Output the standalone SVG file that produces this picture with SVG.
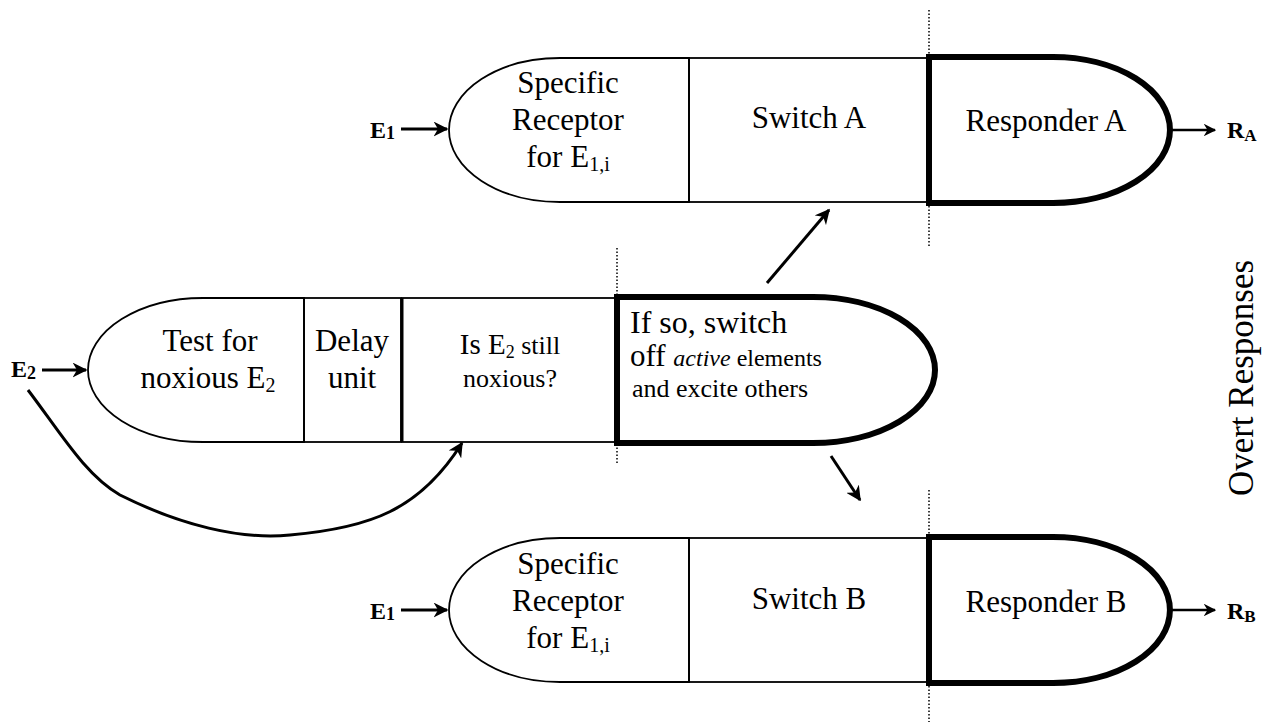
<svg xmlns="http://www.w3.org/2000/svg" width="1269" height="722" viewBox="0 0 1269 722">
<defs>
<style>
.thin{fill:none;stroke:#000;stroke-width:1.8}
.thick{fill:none;stroke:#000;stroke-width:6}
.dot{stroke:#000;stroke-width:1.5;stroke-dasharray:1.5 2}
.con{fill:none;stroke:#000;stroke-width:3}
</style>
<marker id="ah" viewBox="0 0 10 10" refX="9" refY="5" markerWidth="5" markerHeight="5" markerUnits="strokeWidth" orient="auto">
<path d="M0,0 L10,5 L0,10 L3,5 Z" fill="#000"/>
</marker>
</defs>
<rect width="1269" height="722" fill="#fff"/>

<g id="dividers">
<line class="dot" x1="929" y1="10" x2="929" y2="247"/>
<line class="dot" x1="617" y1="248" x2="617" y2="465"/>
<line class="dot" x1="929" y1="490" x2="929" y2="722"/>
</g>

<g font-family="'Liberation Serif', 'Times New Roman', 'DejaVu Serif', serif" fill="#000">
<g id="receptorA" font-size="31">
<path class="thin" d="M689,58 L560,58 A111,72 0 0 0 560,202 L689,202 Z"/>
<text text-anchor="middle" x="568" y="93">Specific</text>
<text text-anchor="middle" x="568" y="130">Receptor</text>
<text text-anchor="middle" x="568" y="167">for E<tspan font-size="20" dy="4">1,i</tspan></text>
</g>
<g id="switchA" font-size="31">
<rect class="thin" x="689" y="58" width="240" height="144"/>
<text text-anchor="middle" x="809" y="128">Switch A</text>
</g>
<g id="responderA" font-size="31">
<path class="thick" d="M929,57 L1053,57 A117,73 0 0 1 1053,203 L929,203 Z"/>
<text text-anchor="middle" x="1046" y="131">Responder A</text>
</g>

<g id="testE2" font-size="31">
<path class="thin" d="M304,298 L203,298 A115,72 0 0 0 203,442 L304,442 Z"/>
<text text-anchor="middle" x="210" y="351">Test for</text>
<text text-anchor="middle" x="208" y="388">noxious E<tspan font-size="20" dy="4">2</tspan></text>
</g>
<g id="delay" font-size="31">
<rect class="thin" x="304" y="298" width="97" height="144"/>
<text text-anchor="middle" x="352" y="351">Delay</text>
<text text-anchor="middle" x="352" y="388">unit</text>
</g>
<g id="stillNoxious" font-size="26">
<rect class="thin" x="402" y="298" width="215" height="144"/>
<line x1="402" y1="298" x2="402" y2="442" stroke="#000" stroke-width="3"/>
<text text-anchor="middle" x="510" y="354"><tspan font-size="29">Is E</tspan><tspan font-size="18" dy="4">2</tspan><tspan dy="-4"> still</tspan></text>
<text text-anchor="middle" x="510" y="387">noxious?</text>
</g>
<g id="switchOff" font-size="26">
<path class="thick" d="M617,297 L813,297 A122,73 0 0 1 813,443 L617,443 Z"/>
<text font-size="32" x="630" y="333">If so, switch</text>
<text x="630" y="366" font-size="24"><tspan font-size="31">off </tspan><tspan font-style="italic">active</tspan> elements</text>
<text x="632" y="397">and excite others</text>
</g>

<g id="receptorB" font-size="31">
<path class="thin" d="M689,538 L560,538 A111,72 0 0 0 560,682 L689,682 Z"/>
<text text-anchor="middle" x="568" y="574">Specific</text>
<text text-anchor="middle" x="568" y="611">Receptor</text>
<text text-anchor="middle" x="568" y="648">for E<tspan font-size="20" dy="4">1,i</tspan></text>
</g>
<g id="switchB" font-size="31">
<rect class="thin" x="689" y="538" width="240" height="144"/>
<text text-anchor="middle" x="809" y="609">Switch B</text>
</g>
<g id="responderB" font-size="31">
<path class="thick" d="M929,537 L1053,537 A117,73 0 0 1 1053,683 L929,683 Z"/>
<text text-anchor="middle" x="1046" y="612">Responder B</text>
</g>

<g id="labels" font-size="24" font-weight="bold">
<text x="370" y="138">E<tspan font-size="18" dy="1">1</tspan></text>
<text x="370" y="619">E<tspan font-size="18" dy="1">1</tspan></text>
<text x="11" y="377">E<tspan font-size="18" dy="2">2</tspan></text>
<text x="1227" y="138">R<tspan font-size="17" dy="3">A</tspan></text>
<text x="1227" y="619">R<tspan font-size="17" dy="3">B</tspan></text>
<text font-size="35" font-weight="normal" text-anchor="middle" transform="translate(1253,378) rotate(-90)">Overt Responses</text>
</g>
</g>

<g id="connectors">
<line class="con" x1="401" y1="129" x2="447" y2="129" marker-end="url(#ah)"/>
<line class="con" x1="401" y1="610" x2="447" y2="610" marker-end="url(#ah)"/>
<line class="con" x1="42" y1="370" x2="86" y2="370" marker-end="url(#ah)"/>
<line x1="1172" y1="130" x2="1215" y2="130" stroke="#000" stroke-width="2.5" marker-end="url(#ah)"/>
<line x1="1172" y1="610" x2="1215" y2="610" stroke="#000" stroke-width="2.5" marker-end="url(#ah)"/>
<line class="con" x1="767" y1="283" x2="829" y2="210" marker-end="url(#ah)"/>
<line class="con" x1="831" y1="456" x2="860" y2="500" marker-end="url(#ah)"/>
<path class="con" d="M28,390 C60,432 85,475 120,495 C180,525 240,540 290,535 C370,528 420,510 462,443" marker-end="url(#ah)"/>
</g>
</svg>
